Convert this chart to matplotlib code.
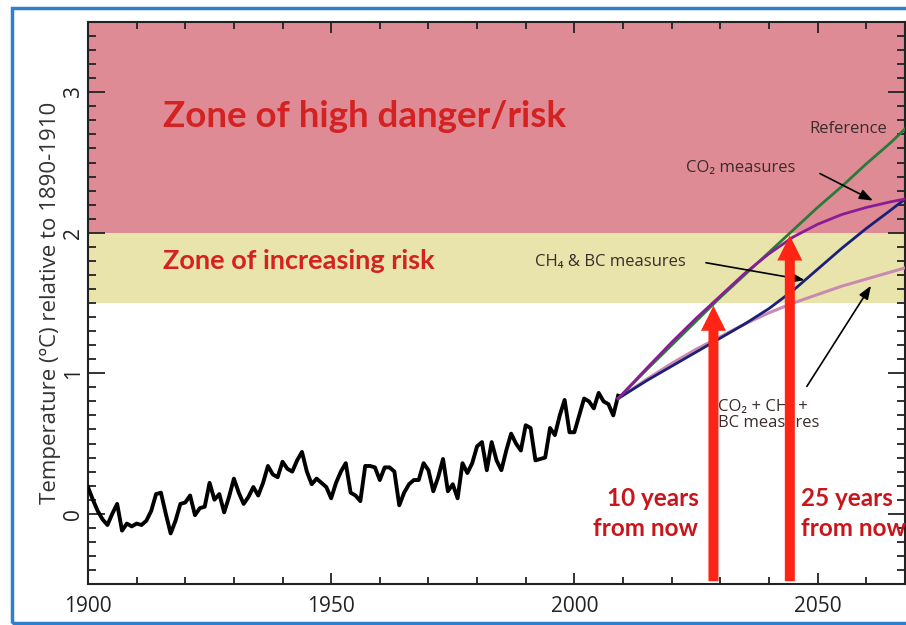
import numpy as np
import matplotlib
matplotlib.use("Agg")
import matplotlib.pyplot as plt
from matplotlib.patches import Rectangle, FancyArrowPatch
from matplotlib.ticker import MultipleLocator

# observed temperature anomaly (ºC, relative to 1890-1910)
years_obs = list(range(1900, 2010))
temp_obs = [0.19, 0.10, 0.02, -0.04, -0.08, 0.00, 0.07, -0.12, -0.07, -0.09,
            -0.07, -0.08, -0.05, 0.02, 0.14, 0.15, 0.00, -0.14, -0.05, 0.07,
            0.08, 0.13, -0.01, 0.04, 0.05, 0.22, 0.10, 0.14, 0.01, 0.12,
            0.25, 0.15, 0.07, 0.12, 0.19, 0.13, 0.22, 0.34, 0.28, 0.26,
            0.37, 0.32, 0.30, 0.38, 0.44, 0.30, 0.21, 0.25, 0.22, 0.19,
            0.11, 0.22, 0.30, 0.36, 0.15, 0.13, 0.09, 0.34, 0.34, 0.33,
            0.24, 0.33, 0.33, 0.30, 0.06, 0.15, 0.21, 0.24, 0.24, 0.36,
            0.31, 0.16, 0.26, 0.39, 0.16, 0.21, 0.11, 0.36, 0.29, 0.36,
            0.48, 0.51, 0.31, 0.51, 0.38, 0.31, 0.45, 0.57, 0.50, 0.45,
            0.63, 0.61, 0.38, 0.39, 0.40, 0.61, 0.56, 0.70, 0.81, 0.58,
            0.58, 0.70, 0.82, 0.80, 0.75, 0.86, 0.80, 0.78, 0.70, 0.84]

# projections
years_proj = [2009, 2015, 2020, 2025, 2030, 2035, 2040, 2045, 2050, 2055, 2060, 2065, 2068]
reference = [0.82, 1.03, 1.20, 1.37, 1.54, 1.70, 1.86, 2.02, 2.18, 2.33, 2.49, 2.64, 2.74]
co2_meas = [0.82, 1.04, 1.22, 1.39, 1.55, 1.71, 1.85, 1.97, 2.06, 2.13, 2.18, 2.22, 2.24]
ch4_bc_meas = [0.82, 0.95, 1.05, 1.15, 1.25, 1.35, 1.46, 1.59, 1.74, 1.89, 2.03, 2.16, 2.24]
all_meas = [0.82, 0.96, 1.07, 1.17, 1.26, 1.35, 1.43, 1.50, 1.56, 1.62, 1.67, 1.72, 1.75]

# risk zones
danger_lo, danger_hi = 2.0, 3.5
increase_lo, increase_hi = 1.5, 2.0

# red arrows: year, level reached
arrow_years = [2028.6, 2044.3]
arrow_tops = [1.5, 2.0]

fig = plt.figure(figsize=(9.06, 6.25), dpi=100)
fig.patch.set_facecolor('white')
# blue frame round the slide
fig.patches.append(Rectangle((0.0135, 0.004), 1.02, 0.984, transform=fig.transFigure,
                             fill=False, edgecolor='#2f7fd0', linewidth=2.5))

ax = fig.add_axes([0.0971, 0.0656, 0.9019, 0.8992])
ax.set_xlim(1900, 2068)
ax.set_ylim(-0.5, 3.5)

ax.axhspan(danger_lo, danger_hi, color='#df8b95', zorder=0, lw=0)
ax.axhspan(increase_lo, increase_hi, color='#e9e4ab', zorder=0, lw=0)

ax.plot(years_obs, temp_obs, color='black', lw=2.8, zorder=3)
ax.plot(years_proj, all_meas, color='#c98ab0', lw=2.2, zorder=3)
ax.plot(years_proj, ch4_bc_meas, color='#1c1f78', lw=2.0, zorder=3)
ax.plot(years_proj, reference, color='#2a7a3a', lw=2.0, zorder=3)
ax.plot(years_proj, co2_meas, color='#8a1d96', lw=2.0, zorder=3)

txt = ['Lato', 'DejaVu Sans']
lab = ['Open Sans', 'DejaVu Sans']

ax.text(1915.4, 2.83, 'Zone of high danger/risk', color='#d42222', fontsize=26.5,
        fontweight='bold', family=txt, va='center', ha='left')
ax.text(1915.4, 1.80, 'Zone of increasing risk', color='#d42222', fontsize=19.5,
        fontweight='bold', family=txt, va='center', ha='left')

dark = '#3a2c2c'
ax.text(2056.3, 2.74, 'Reference', color=dark, fontsize=12, family=lab, va='center', ha='center')
ax.text(2023.0, 2.46, 'CO₂ measures', color=dark, fontsize=12, family=lab, va='center', ha='left')
ax.text(1992.0, 1.79, 'CH₄ & BC measures', color=dark, fontsize=12, family=lab, va='center', ha='left')
ax.text(2029.6, 0.70, 'CO₂ + CH₄ +\nBC measures', color=dark, fontsize=12, family=lab,
        va='center', ha='left', linespacing=1.0)

for start, end in [((2050.0, 2.43), (2061.9, 2.22)),
                   ((2026.5, 1.79), (2047.9, 1.66)),
                   ((2047.5, 0.89), (2061.3, 1.64))]:
    ax.annotate('', xy=end, xytext=start,
                arrowprops=dict(arrowstyle='-|>,head_length=0.8,head_width=0.3',
                                color='black', lw=1.2), zorder=4)

for yr, top in zip(arrow_years, arrow_tops):
    ax.add_patch(FancyArrowPatch((yr, -0.5), (yr, top),
                                 arrowstyle='simple,head_length=1.5,head_width=1.5,tail_width=0.6',
                                 mutation_scale=12, color='#ff2414', lw=0, zorder=5))

ax.text(2025.5, 0.0, '10 years\nfrom now', color='#c8161c', fontsize=17.5, fontweight='bold',
        family=txt, va='center', ha='right', linespacing=1.35)
ax.text(2046.5, 0.0, '25 years\nfrom now', color='#c8161c', fontsize=17.5, fontweight='bold',
        family=txt, va='center', ha='left', linespacing=1.35)

ax.set_ylabel('Temperature (ºC) relative to 1890-1910', fontsize=16, family=lab,
              color='#333333', labelpad=1)

ax.xaxis.set_major_locator(MultipleLocator(50))
ax.xaxis.set_minor_locator(MultipleLocator(10))
ax.yaxis.set_major_locator(MultipleLocator(1))
ax.yaxis.set_minor_locator(MultipleLocator(0.1))
ax.tick_params(which='both', direction='in', top=True, right=True, width=1.3, colors='#222222')
ax.tick_params(axis='x', which='major', length=8, labelsize=15, pad=9)
ax.tick_params(axis='x', which='minor', length=5)
ax.tick_params(axis='y', which='major', length=12, labelsize=15, pad=3)
ax.tick_params(axis='y', which='minor', length=6)
for lbl in ax.get_yticklabels():
    lbl.set_rotation(90)
    lbl.set_va('center')
for lbl in ax.get_xticklabels() + ax.get_yticklabels():
    lbl.set_family(lab)
for sp in ax.spines.values():
    sp.set_linewidth(1.5)
    sp.set_color('#222222')

fig.savefig('out.png', dpi=100)
